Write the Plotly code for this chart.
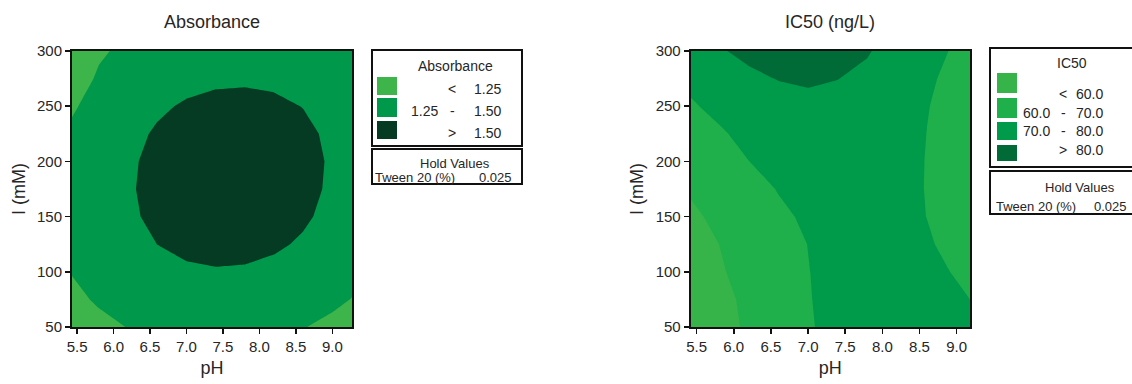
import plotly.graph_objects as go

# ---------------- data ----------------
# Absorbance surface (pH x I), values read/estimated from the reference contour map
abs_ph = [5.43, 5.8, 6.2, 6.6, 7.0, 7.4, 7.8, 8.2, 8.6, 9.0, 9.27]
abs_i = [50, 75, 100, 125, 150, 175, 200, 225, 250, 275, 300]
abs_z = [
    [1.123, 1.196, 1.256, 1.298, 1.320, 1.324, 1.316, 1.296, 1.258, 1.200, 1.150],
    [1.200, 1.276, 1.340, 1.385, 1.410, 1.417, 1.410, 1.390, 1.352, 1.294, 1.244],
    [1.259, 1.338, 1.405, 1.453, 1.480, 1.490, 1.485, 1.465, 1.427, 1.369, 1.319],
    [1.299, 1.381, 1.450, 1.501, 1.532, 1.545, 1.541, 1.521, 1.483, 1.425, 1.375],
    [1.320, 1.404, 1.477, 1.531, 1.564, 1.580, 1.578, 1.558, 1.520, 1.462, 1.412],
    [1.322, 1.409, 1.485, 1.541, 1.578, 1.597, 1.596, 1.576, 1.538, 1.480, 1.430],
    [1.314, 1.402, 1.479, 1.537, 1.575, 1.595, 1.596, 1.578, 1.541, 1.485, 1.436],
    [1.294, 1.382, 1.459, 1.517, 1.555, 1.575, 1.577, 1.562, 1.529, 1.475, 1.428],
    [1.221, 1.343, 1.420, 1.478, 1.516, 1.536, 1.540, 1.527, 1.497, 1.447, 1.402],
    [1.170, 1.270, 1.361, 1.419, 1.457, 1.477, 1.482, 1.473, 1.445, 1.398, 1.355],
    [1.119, 1.230, 1.284, 1.342, 1.380, 1.400, 1.407, 1.400, 1.376, 1.331, 1.291],
]
abs_levels = [1.25, 1.50]
abs_colors = ["#3DB54A", "#00994C", "#053B22"]
abs_labels = [("", "<", "1.25"), ("1.25", "-", "1.50"), ("", ">", "1.50")]

# IC50 surface (ng/L)
ic_ph = [5.42, 5.8, 6.2, 6.6, 7.0, 7.4, 7.8, 8.2, 8.6, 8.9, 9.18]
ic_i = [50, 75, 100, 125, 150, 175, 200, 225, 250, 275, 300]
ic_z = [
    [55.0, 57.5, 61.0, 65.3, 69.4, 72.0, 73.5, 74.0, 73.5, 72.6, 71.5],
    [56.0, 57.8, 61.6, 65.8, 69.6, 72.4, 74.0, 74.3, 73.6, 72.0, 70.0],
    [57.0, 59.2, 62.5, 66.4, 69.8, 72.5, 74.0, 74.0, 72.6, 70.1, 67.6],
    [58.0, 60.0, 63.3, 66.9, 70.1, 72.6, 73.8, 73.4, 71.0, 68.2, 66.0],
    [59.0, 61.2, 64.8, 68.4, 71.3, 73.3, 74.2, 73.2, 69.9, 67.3, 65.5],
    [60.6, 63.0, 66.8, 70.4, 73.0, 74.6, 75.0, 73.6, 69.6, 66.8, 65.2],
    [62.6, 66.0, 69.9, 73.0, 75.0, 76.2, 76.3, 74.5, 69.6, 66.6, 65.0],
    [65.0, 68.8, 72.6, 75.5, 77.2, 78.0, 77.8, 75.6, 69.9, 66.8, 65.2],
    [69.0, 72.3, 75.2, 76.8, 77.6, 78.0, 77.6, 76.0, 70.4, 67.4, 65.8],
    [72.2, 75.5, 78.3, 80.3, 81.2, 80.1, 78.5, 76.2, 71.3, 68.5, 66.8],
    [75.5, 79.2, 82.0, 83.5, 84.0, 83.0, 80.5, 77.0, 73.0, 69.9, 67.5],
]
ic_levels = [60.0, 70.0, 80.0]
ic_colors = ["#36B44A", "#20B04B", "#009A4B", "#006B36"]
ic_labels = [("", "<", "60.0"), ("60.0", "-", "70.0"), ("70.0", "-", "80.0"), ("", ">", "80.0")]

ph_ticks = [5.5, 6.0, 6.5, 7.0, 7.5, 8.0, 8.5, 9.0]
i_ticks = [50, 100, 150, 200, 250, 300]
titles = ["Absorbance", "IC50 (ng/L)"]
hold_name, hold_value = "Tween 20 (%)", "0.025"

# ---------------- figure ----------------
W, H = 1132, 384
FONT = "Liberation Sans, Arial, sans-serif"
TXT = "#262626"


def px(x):
    return x / W


def py(y):
    return 1 - y / H


def step_scale(colors):
    n = len(colors)
    cs = []
    for k, c in enumerate(colors):
        cs.append([k / n, c])
        cs.append([(k + 1) / n, c])
    return cs


fig = go.Figure()

for (xs, ys, zs, lv, cols, xa, ya) in [
    (abs_ph, abs_i, abs_z, abs_levels, abs_colors, "x", "y"),
    (ic_ph, ic_i, ic_z, ic_levels, ic_colors, "x2", "y2"),
]:
    size = lv[1] - lv[0]
    fig.add_trace(go.Contour(
        x=xs, y=ys, z=zs, xaxis=xa, yaxis=ya,
        contours=dict(start=lv[0], end=lv[-1], size=size, coloring="fill"),
        colorscale=step_scale(cols),
        line=dict(width=0, smoothing=0),
        showscale=False, hoverinfo="skip",
    ))

ax_common = dict(
    showgrid=False, zeroline=False, showline=True, mirror=True, automargin=False,
    linecolor="#111", linewidth=2, ticks="outside", ticklen=5, tickwidth=1.5,
    tickcolor="#111", tickfont=dict(family=FONT, size=15, color=TXT),
    title_font=dict(family=FONT, size=18, color=TXT),
)

yd = [py(327), py(51)]
fig.update_layout(
    width=W, height=H, margin=dict(l=0, r=0, t=0, b=0, autoexpand=False),
    paper_bgcolor="white", plot_bgcolor="white", showlegend=False,
    font=dict(family=FONT, color=TXT),
    xaxis=dict(domain=[px(72), px(352)], range=[5.43, 9.27], tickvals=ph_ticks,
               tickformat=".1f", title=dict(text="pH", standoff=7), anchor="y", **ax_common),
    yaxis=dict(domain=yd, range=[50, 300], tickvals=i_ticks,
               title=dict(text="I (mM)", standoff=7), anchor="x", **ax_common),
    xaxis2=dict(domain=[px(690.7), px(970)], range=[5.42, 9.18], tickvals=ph_ticks,
                tickformat=".1f", title=dict(text="pH", standoff=7), anchor="y2", **ax_common),
    yaxis2=dict(domain=yd, range=[50, 300], tickvals=i_ticks,
                title=dict(text="I (mM)", standoff=7), anchor="x2", **ax_common),
)

anns = []
shapes = []


def text(x, y, s, size=14, xanchor="center"):
    anns.append(dict(x=px(x), y=py(y), xref="paper", yref="paper", text=s,
                     showarrow=False, xanchor=xanchor, yanchor="middle",
                     font=dict(family=FONT, size=size, color=TXT)))


def rect(x0, y0, x1, y1, fill=None, lw=2):
    shapes.append(dict(type="rect", xref="paper", yref="paper",
                       x0=px(x0), x1=px(x1), y0=py(y1), y1=py(y0),
                       line=dict(color="#111", width=lw) if fill is None else dict(width=0),
                       fillcolor=fill if fill else "rgba(0,0,0,0)", layer="above"))


# chart titles
text(212, 22, titles[0], size=18)
text(830, 22, titles[1], size=18)

# left legend
rect(372, 50, 522, 146)
text(455, 66, "Absorbance", size=14)
patch_rows = [(77, 95), (98, 117), (121, 139)]
text_rows = [89, 111, 133]
for k, (lab, (y0, y1), ty) in enumerate(zip(abs_labels, patch_rows, text_rows)):
    rect(377, y0, 397, y1, fill=abs_colors[k])
    if lab[0]:
        text(409, ty, lab[0], xanchor="left")
    text(452, ty, lab[1])
    text(503, ty, lab[2], xanchor="right")
rect(372, 149, 522, 184)
text(455, 163, "Hold Values", size=13)
text(373, 177, hold_name, size=13, xanchor="left")
text(514, 177, hold_value, size=13, xanchor="right")

# right legend
rect(990, 48, 1145, 167)
text(1072, 63, "IC50", size=14)
patch_rows = [(73, 93), (98, 118), (122, 140), (145, 161)]
text_rows = [94, 113, 131, 150]
for k, (lab, (y0, y1), ty) in enumerate(zip(ic_labels, patch_rows, text_rows)):
    rect(997, y0, 1017, y1, fill=ic_colors[k])
    if lab[0]:
        text(1021, ty, lab[0], xanchor="left")
    text(1063, ty, lab[1])
    text(1105, ty, lab[2], xanchor="right")
rect(990, 171, 1145, 214)
text(1080, 187, "Hold Values", size=13)
text(994, 206, hold_name, size=13, xanchor="left")
text(1129, 206, hold_value, size=13, xanchor="right")

fig.update_layout(annotations=anns, shapes=shapes)
fig.write_html(
    "out.html",
    config={"displayModeBar": False, "staticPlot": True},
    post_script="document.body.style.margin='0';document.body.style.overflow='hidden';",
)
